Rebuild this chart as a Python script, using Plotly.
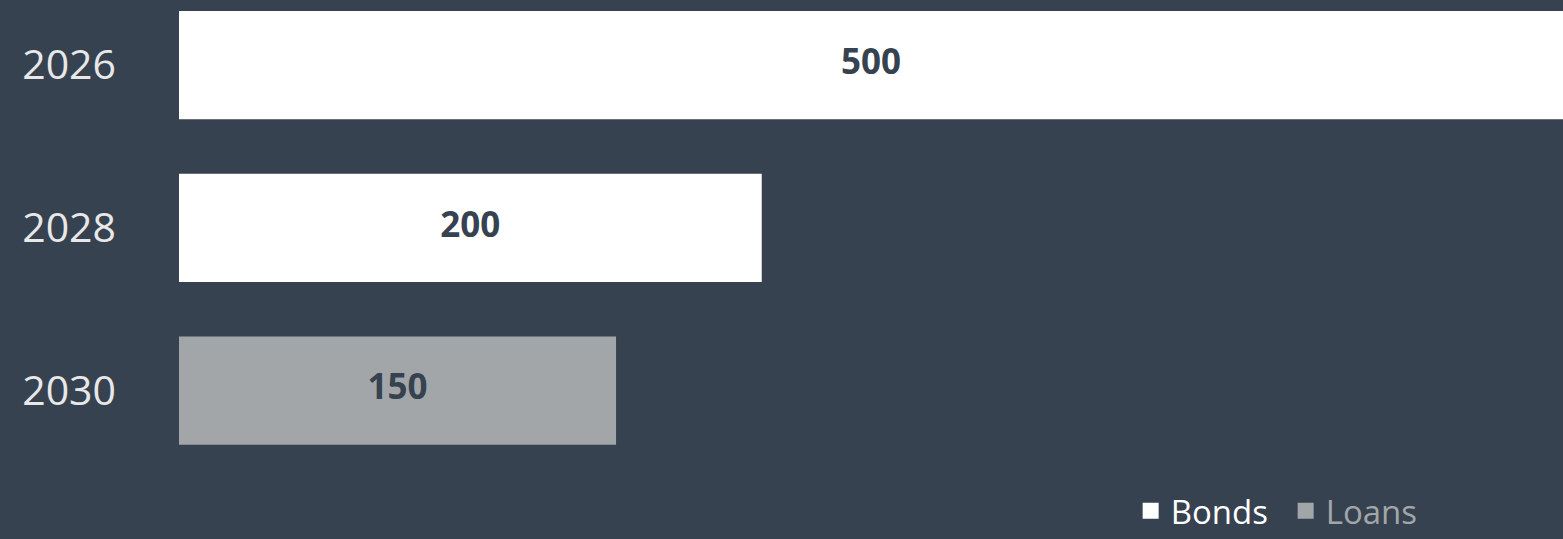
import plotly.graph_objects as go

years_bonds = ["2026", "2028"]
values_bonds = [500, 200]
years_loans = ["2030"]
values_loans = [150]
categories = ["2026", "2028", "2030"]

BG = "#36424F"
GREY = "#A3A6A9"
X_MAX = 475
LABEL_FONT = dict(color=BG, size=35, family="Open Sans", weight="bold")

fig = go.Figure()
fig.add_trace(go.Bar(
    y=years_bonds, x=values_bonds, orientation="h", name="Bonds",
    marker=dict(color="#FFFFFF", line=dict(width=0)),
    width=0.665, hoverinfo="skip", showlegend=False,
))
fig.add_trace(go.Bar(
    y=years_loans, x=values_loans, orientation="h", name="Loans",
    marker=dict(color=GREY, line=dict(width=0)),
    width=0.665, hoverinfo="skip", showlegend=False,
))
# value labels, centred on the visible part of each bar
all_years = years_bonds + years_loans
all_values = values_bonds + values_loans
fig.add_trace(go.Scatter(
    y=all_years, x=[min(v, X_MAX) / 2 for v in all_values], mode="text",
    text=[str(v) for v in all_values], textposition="middle center",
    textfont=LABEL_FONT, hoverinfo="skip", showlegend=False,
))
# legend entries
fig.add_trace(go.Scatter(
    x=[None], y=[None], mode="markers", name="Bonds",
    marker=dict(symbol="square", size=16, color="#FFFFFF", line=dict(width=0)),
))
fig.add_trace(go.Scatter(
    x=[None], y=[None], mode="markers",
    name="<span style='color:%s'>Loans</span>" % GREY,
    marker=dict(symbol="square", size=16, color=GREY, line=dict(width=0)),
))

fig.update_layout(
    width=1563, height=539,
    paper_bgcolor=BG, plot_bgcolor=BG,
    margin=dict(l=179, r=0, t=0, b=70, autoexpand=False),
    barmode="overlay",
    font=dict(family="Open Sans", color="#E8E8E8"),
    xaxis=dict(range=[0, X_MAX], visible=False, showgrid=False, zeroline=False, fixedrange=True),
    yaxis=dict(type="category", categoryorder="array", categoryarray=categories,
               range=[2.482, -0.4], showgrid=False, zeroline=False, showline=False,
               ticks="", tickfont=dict(size=41, color="#E8E8E8", family="Open Sans"),
               ticklabelstandoff=62, fixedrange=True),
    legend=dict(orientation="h", xanchor="right", x=0.9116, yanchor="bottom", y=-0.149,
                font=dict(size=33, color="#FFFFFF", family="Open Sans"),
                bgcolor="rgba(0,0,0,0)", traceorder="normal", itemsizing="trace",
                entrywidth=110),
    showlegend=True,
)

fig.write_html("out.html", config={"displayModeBar": False},
               post_script="document.body.style.margin='0';document.body.style.overflow='hidden';")
